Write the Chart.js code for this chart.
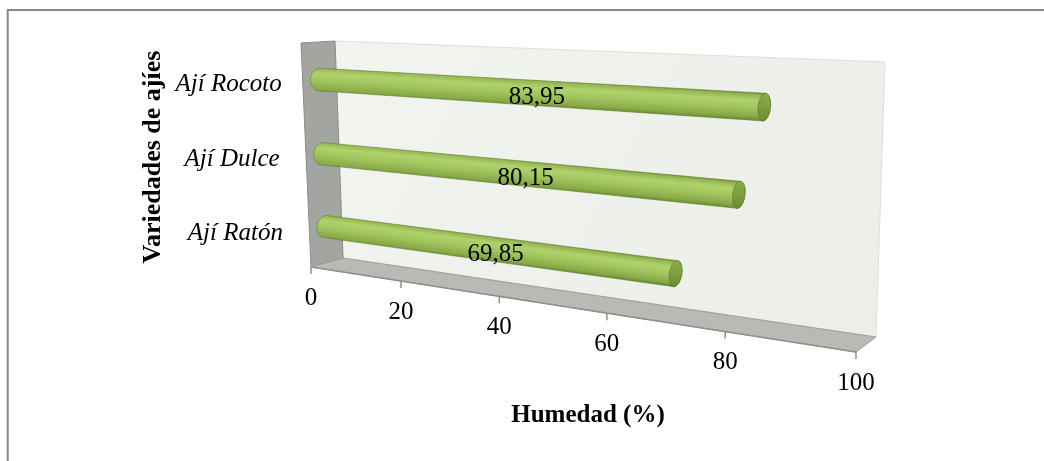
<!DOCTYPE html>
<html>
<head>
<meta charset="utf-8">
<script src="https://cdn.jsdelivr.net/npm/chart.js@4/dist/chart.umd.min.js"></script>
<style>
  html, body { margin: 0; padding: 0; background: #ffffff; }
  #wrap { width: 1044px; height: 461px; position: relative; overflow: hidden; }
</style>
</head>
<body>
<div id="wrap"><canvas id="c" width="1044" height="461"></canvas></div>
<script>
// Data
const categories = ['Ají Rocoto', 'Ají Dulce', 'Ají Ratón'];
const humedad = [83.95, 80.15, 69.85];
const xTickValues = [0, 20, 40, 60, 80, 100];
const xTitle = 'Humedad (%)';
const yTitle = 'Variedades de ajíes';

// Perspective box: front and back planes of the 3D plot (screen corners TL, TR, BR, BL)
const FRONT_QUAD = [[301, 43], [863, 70], [856, 352], [311, 267]];
const BACK_QUAD = [[335, 41], [885, 62], [876, 337], [343, 258]];
const CYL_DEPTH_RADIUS = 0.27;
const SERIF = "'Liberation Serif', 'Times New Roman', serif";

function quadMap(q) {
  const [p0, p1, p2, p3] = q;
  const dx1 = p1[0] - p2[0], dy1 = p1[1] - p2[1];
  const dx2 = p3[0] - p2[0], dy2 = p3[1] - p2[1];
  const dx3 = p0[0] - p1[0] + p2[0] - p3[0], dy3 = p0[1] - p1[1] + p2[1] - p3[1];
  const den = dx1 * dy2 - dx2 * dy1;
  const g = (dx3 * dy2 - dx2 * dy3) / den;
  const h = (dx1 * dy3 - dx3 * dy1) / den;
  const a = p1[0] - p0[0] + g * p1[0], b = p3[0] - p0[0] + h * p3[0], c = p0[0];
  const d = p1[1] - p0[1] + g * p1[1], e = p3[1] - p0[1] + h * p3[1], f = p0[1];
  return (u, v) => {
    const w = g * u + h * v + 1;
    return [(a * u + b * v + c) / w, (d * u + e * v + f) / w];
  };
}
const frontMap = quadMap(FRONT_QUAD);
const backMap = quadMap(BACK_QUAD);
// u: value fraction (0..1), v: top->floor (0..1), w: depth front->back (0..1)
function P(u, v, w) {
  const f = frontMap(u, v), b = backMap(u, v);
  return [f[0] + (b[0] - f[0]) * w, f[1] + (b[1] - f[1]) * w];
}

function hull(points) {
  const pts = points.slice().sort((a, b) => a[0] - b[0] || a[1] - b[1]);
  const cross = (o, a, b) => (a[0] - o[0]) * (b[1] - o[1]) - (a[1] - o[1]) * (b[0] - o[0]);
  const lower = [];
  for (const p of pts) {
    while (lower.length >= 2 && cross(lower[lower.length - 2], lower[lower.length - 1], p) <= 0) lower.pop();
    lower.push(p);
  }
  const upper = [];
  for (let i = pts.length - 1; i >= 0; i--) {
    const p = pts[i];
    while (upper.length >= 2 && cross(upper[upper.length - 2], upper[upper.length - 1], p) <= 0) upper.pop();
    upper.push(p);
  }
  upper.pop(); lower.pop();
  return lower.concat(upper);
}

function polyPath(ctx, pts) {
  ctx.beginPath();
  pts.forEach((p, i) => (i ? ctx.lineTo(p[0], p[1]) : ctx.moveTo(p[0], p[1])));
  ctx.closePath();
}

function drawCylinder(ctx, u0, u1, v, rv) {
  const N = 48;
  const startRing = [], endRing = [];
  for (let i = 0; i < N; i++) {
    const th = (2 * Math.PI * i) / N;
    const vv = v + rv * Math.cos(th);
    const ww = 0.5 + CYL_DEPTH_RADIUS * Math.sin(th);
    startRing.push(P(u0, vv, ww));
    endRing.push(P(u1, vv, ww));
  }
  const outline = hull(startRing.concat(endRing));
  const A = P(u0, v, 0.5), B = P(u1, v, 0.5);
  let dx = B[0] - A[0], dy = B[1] - A[1];
  const len = Math.hypot(dx, dy) || 1;
  dx /= len; dy /= len;
  const n = [-dy, dx];
  let tMin = Infinity, tMax = -Infinity;
  outline.forEach(p => {
    const t = (p[0] - A[0]) * n[0] + (p[1] - A[1]) * n[1];
    tMin = Math.min(tMin, t); tMax = Math.max(tMax, t);
  });
  const M = [(A[0] + B[0]) / 2, (A[1] + B[1]) / 2];
  const grad = ctx.createLinearGradient(M[0] + n[0] * tMin, M[1] + n[1] * tMin, M[0] + n[0] * tMax, M[1] + n[1] * tMax);
  grad.addColorStop(0, '#728f38');
  grad.addColorStop(0.08, '#93b652');
  grad.addColorStop(0.28, '#afd26d');
  grad.addColorStop(0.55, '#a1c55e');
  grad.addColorStop(0.85, '#89ab48');
  grad.addColorStop(1, '#6a8930');
  polyPath(ctx, outline);
  ctx.fillStyle = grad;
  ctx.fill();
  ctx.lineWidth = 0.8;
  ctx.strokeStyle = 'rgba(98,128,44,0.75)';
  ctx.stroke();

  // end cap facing the viewer
  let cMin = Infinity, cMax = -Infinity;
  endRing.forEach(p => {
    const t = (p[0] - B[0]) * n[0] + (p[1] - B[1]) * n[1];
    cMin = Math.min(cMin, t); cMax = Math.max(cMax, t);
  });
  const capGrad = ctx.createLinearGradient(B[0] + n[0] * cMin, B[1] + n[1] * cMin, B[0] + n[0] * cMax, B[1] + n[1] * cMax);
  capGrad.addColorStop(0, '#8cab4b');
  capGrad.addColorStop(0.5, '#7f9e3f');
  capGrad.addColorStop(1, '#6c8a33');
  polyPath(ctx, endRing);
  ctx.fillStyle = capGrad;
  ctx.fill();
  ctx.lineWidth = 0.8;
  ctx.strokeStyle = 'rgba(92,120,40,0.8)';
  ctx.stroke();
  return { A, B };
}

const scene3d = {
  id: 'scene3d',
  beforeDraw(chart) {
    const ctx = chart.ctx;
    ctx.save();
    ctx.fillStyle = '#ffffff';
    ctx.fillRect(0, 0, chart.width, chart.height);
    ctx.lineWidth = 2;
    ctx.strokeStyle = '#878787';
    ctx.strokeRect(7.7, 10, chart.width + 40, chart.height + 40);
    ctx.restore();
  },
  beforeDatasetsDraw(chart) {
    const ctx = chart.ctx;
    const area = chart.chartArea;
    const xs = chart.scales.x;
    ctx.save();
    // back wall
    const back = [P(0, 0, 1), P(1, 0, 1), P(1, 1, 1), P(0, 1, 1)];
    const bg = ctx.createLinearGradient(back[0][0], back[0][1], back[2][0], back[2][1]);
    bg.addColorStop(0, '#f1f4ef');
    bg.addColorStop(1, '#ecefe8');
    polyPath(ctx, back);
    ctx.fillStyle = bg;
    ctx.fill();
    ctx.lineWidth = 1;
    ctx.strokeStyle = '#dde0d9';
    ctx.stroke();
    // left side wall
    polyPath(ctx, [P(0, 0, 0), P(0, 0, 1), P(0, 1, 1), P(0, 1, 0)]);
    ctx.fillStyle = '#a3a5a1';
    ctx.fill();
    ctx.strokeStyle = '#8b8d89';
    ctx.stroke();
    // floor
    polyPath(ctx, [P(0, 1, 0), P(1, 1, 0), P(1, 1, 1), P(0, 1, 1)]);
    ctx.fillStyle = '#b8bbb4';
    ctx.fill();
    ctx.strokeStyle = '#9c9e9a';
    ctx.stroke();
    // front edge of the floor
    const f0 = P(0, 1, 0), f1 = P(1, 1, 0);
    ctx.beginPath();
    ctx.moveTo(f0[0], f0[1]);
    ctx.lineTo(f1[0], f1[1]);
    ctx.lineWidth = 1.3;
    ctx.strokeStyle = '#8e908c';
    ctx.stroke();
    // ticks and tick labels
    ctx.font = '25px ' + SERIF;
    ctx.textAlign = 'center';
    ctx.textBaseline = 'middle';
    xTickValues.forEach(val => {
      const u = (xs.getPixelForValue(val) - area.left) / (area.right - area.left);
      const p = P(u, 1, 0);
      ctx.beginPath();
      ctx.moveTo(p[0], p[1]);
      ctx.lineTo(p[0], p[1] + 7);
      ctx.lineWidth = 1.5;
      ctx.strokeStyle = '#8e8e8e';
      ctx.stroke();
      ctx.fillStyle = '#000000';
      ctx.fillText(String(val), p[0], p[1] + 31);
    });
    ctx.restore();
  },
  afterDatasetsDraw(chart) {
    const ctx = chart.ctx;
    const area = chart.chartArea;
    const W = area.right - area.left, H = area.bottom - area.top;
    const meta = chart.getDatasetMeta(0);
    ctx.save();
    meta.data.forEach((el, i) => {
      const u0 = (el.base - area.left) / W;
      const u1 = (el.x - area.left) / W;
      const v = (el.y - area.top) / H;
      const rv = el.height / 2 / H;
      const { A, B } = drawCylinder(ctx, u0, u1, v, rv);
      // value label
      ctx.font = '25px ' + SERIF;
      ctx.textAlign = 'center';
      ctx.textBaseline = 'middle';
      ctx.fillStyle = '#000000';
      const txt = humedad[i].toFixed(2).replace('.', ',');
      ctx.fillText(txt, (A[0] + B[0]) / 2 - 5, (A[1] + B[1]) / 2 + 4);
      // category label
      const c = P(0, v, 0);
      ctx.font = 'italic 25px ' + SERIF;
      ctx.fillText(chart.data.labels[i], c[0] - 74, c[1] + 3);
    });
    // axis titles
    ctx.font = 'bold 25px ' + SERIF;
    ctx.textAlign = 'center';
    ctx.textBaseline = 'middle';
    ctx.fillStyle = '#000000';
    ctx.fillText(xTitle, 588, 416);
    ctx.font = 'bold 26px ' + SERIF;
    ctx.translate(153, 157);
    ctx.rotate(-Math.PI / 2);
    ctx.fillText(yTitle, 0, 0);
    ctx.restore();
  }
};

new Chart(document.getElementById('c'), {
  type: 'bar',
  data: {
    labels: categories,
    datasets: [{
      label: xTitle,
      data: humedad,
      backgroundColor: 'rgba(0,0,0,0)',
      borderWidth: 0,
      barPercentage: 0.3,
      categoryPercentage: 1
    }]
  },
  options: {
    indexAxis: 'y',
    responsive: false,
    animation: false,
    devicePixelRatio: 1,
    layout: { padding: 0 },
    scales: {
      x: { min: 0, max: 100, display: false },
      y: { display: false }
    },
    plugins: {
      legend: { display: false },
      tooltip: { enabled: false }
    }
  },
  plugins: [scene3d]
});
</script>
</body>
</html>
